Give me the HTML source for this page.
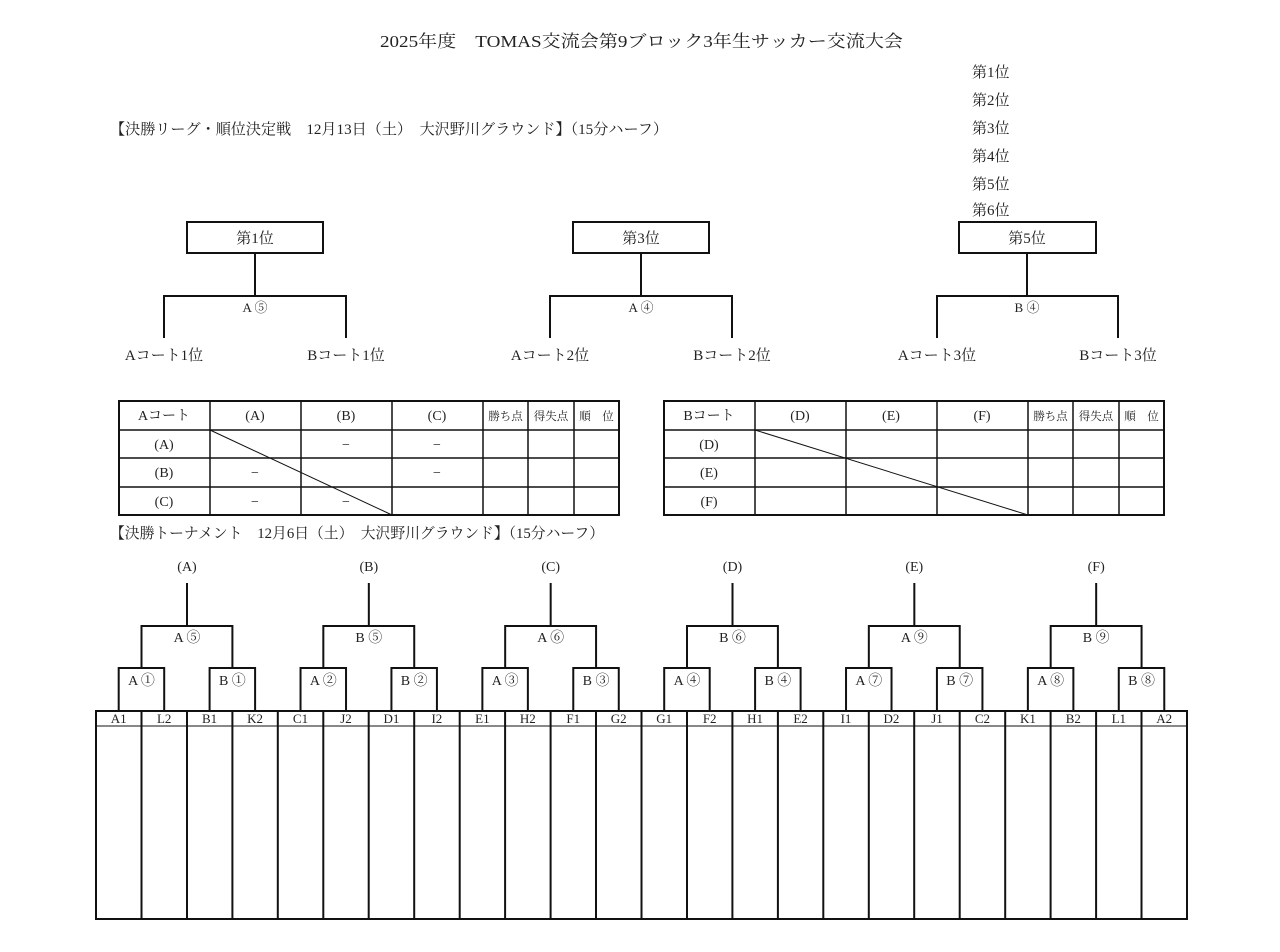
<!DOCTYPE html>
<html><head><meta charset="utf-8"><style>
html,body{margin:0;padding:0;background:#fff;}
svg{display:block;}
text{font-family:"Liberation Serif","Noto Serif CJK JP","Noto Serif CJK SC",serif;fill:#222;}
</style></head><body>
<svg width="1280" height="952" viewBox="0 0 1280 952" xmlns="http://www.w3.org/2000/svg">
<rect width="1280" height="952" fill="#fff"/>
<text x="380" y="47" font-size="17" textLength="523" lengthAdjust="spacingAndGlyphs">2025年度　TOMAS交流会第9ブロック3年生サッカー交流大会</text>
<text x="110" y="134" font-size="15" textLength="558" lengthAdjust="spacingAndGlyphs">【決勝リーグ・順位決定戦　12月13日（土）　大沢野川グラウンド】（15分ハーフ）</text>
<g font-size="15">
<text x="972" y="77">第1位</text><text x="972" y="105">第2位</text><text x="972" y="133">第3位</text>
<text x="972" y="161">第4位</text><text x="972" y="189">第5位</text><text x="972" y="215">第6位</text>
</g>
<g fill="none" stroke="#111" stroke-width="2">
<rect x="187" y="222" width="136" height="31"/>
<path d="M255 253V296M164 338V296H346V338"/>
<rect x="573" y="222" width="136" height="31"/>
<path d="M641 253V296M550 338V296H732V338"/>
<rect x="959" y="222" width="137" height="31"/>
<path d="M1027 253V296M937 338V296H1118V338"/>
</g>
<g font-size="15" text-anchor="middle">
<text x="255" y="243">第1位</text><text x="641" y="243">第3位</text><text x="1027" y="243">第5位</text>
<text x="164" y="360">Aコート1位</text><text x="346" y="360">Bコート1位</text>
<text x="550" y="360">Aコート2位</text><text x="732" y="360">Bコート2位</text>
<text x="937" y="360">Aコート3位</text><text x="1118" y="360">Bコート3位</text>
</g>
<g font-size="13" text-anchor="middle">
<text x="255" y="312">A ⑤</text><text x="641" y="312">A ④</text><text x="1027" y="312">B ④</text>
</g>
<!-- Table A -->
<g fill="none" stroke="#111">
<rect x="119" y="401" width="500" height="114" stroke-width="2"/>
<path stroke-width="1.5" d="M119 430H619M119 458H619M119 487H619M210 401V515M301 401V515M392 401V515M483 401V515M528 401V515M574 401V515"/>
<path stroke-width="1" d="M210 430L392 515"/>
<rect x="664" y="401" width="500" height="114" stroke-width="2"/>
<path stroke-width="1.5" d="M664 430H1164M664 458H1164M664 487H1164M755 401V515M846 401V515M937 401V515M1028 401V515M1073 401V515M1119 401V515"/>
<path stroke-width="1" d="M755 430L1028 515"/>
</g>
<g font-size="14" text-anchor="middle">
<text x="164" y="420">Aコート</text><text x="255" y="420">(A)</text><text x="346" y="420">(B)</text><text x="437" y="420">(C)</text>
<text x="164" y="449">(A)</text><text x="164" y="477">(B)</text><text x="164" y="506">(C)</text>
<text x="346" y="449">−</text><text x="437" y="449">−</text><text x="255" y="477">−</text><text x="437" y="477">−</text>
<text x="255" y="506">−</text><text x="346" y="506">−</text>
<text x="709" y="420">Bコート</text><text x="800" y="420">(D)</text><text x="891" y="420">(E)</text><text x="982" y="420">(F)</text>
<text x="709" y="449">(D)</text><text x="709" y="477">(E)</text><text x="709" y="506">(F)</text>
</g>
<g font-size="11.5" text-anchor="middle">
<text x="505.5" y="420">勝ち点</text><text x="551" y="420">得失点</text><text x="596.5" y="420">順　位</text>
<text x="1050.5" y="420">勝ち点</text><text x="1096" y="420">得失点</text><text x="1141.5" y="420">順　位</text>
</g>
<text x="110" y="538" font-size="15" textLength="494" lengthAdjust="spacingAndGlyphs">【決勝トーナメント　12月6日（土）　大沢野川グラウンド】（15分ハーフ）</text>
<!-- bottom grid -->
<g fill="none" stroke="#111" stroke-width="2">
<rect x="96" y="711" width="1091" height="208"/>
<path stroke-width="1" d="M96 726H1187"/>
<path d="M141.5 711V919M187 711V919M232.4 711V919M277.8 711V919M323.3 711V919M368.7 711V919M414.2 711V919M459.7 711V919M505.1 711V919M550.6 711V919M596 711V919M641.5 711V919M687 711V919M732.4 711V919M777.9 711V919M823.3 711V919M868.8 711V919M914.2 711V919M959.7 711V919M1005.2 711V919M1050.6 711V919M1096.1 711V919M1141.5 711V919"/>
</g>
<defs>
<path id="br" fill="none" stroke="#111" stroke-width="2" d="M118.7 711V668H164.2V711M209.6 711V668H255.1V711M141.5 668V626H232.4V668M187 626V583"/>
</defs>
<use href="#br"/>
<use href="#br" x="181.83"/>
<use href="#br" x="363.67"/>
<use href="#br" x="545.5"/>
<use href="#br" x="727.33"/>
<use href="#br" x="909.17"/>
<g font-size="14" text-anchor="middle">
<text x="187" y="571">(A)</text><text x="368.8" y="571">(B)</text><text x="550.7" y="571">(C)</text>
<text x="732.5" y="571">(D)</text><text x="914.3" y="571">(E)</text><text x="1096.2" y="571">(F)</text>
</g>
<g font-size="14" text-anchor="middle">
<text x="187" y="642">A ⑤</text><text x="368.8" y="642">B ⑤</text><text x="550.7" y="642">A ⑥</text>
<text x="732.5" y="642">B ⑥</text><text x="914.3" y="642">A ⑨</text><text x="1096.2" y="642">B ⑨</text>
<text x="141.5" y="685">A ①</text><text x="232.4" y="685">B ①</text>
<text x="323.3" y="685">A ②</text><text x="414.2" y="685">B ②</text>
<text x="505.2" y="685">A ③</text><text x="596.1" y="685">B ③</text>
<text x="687" y="685">A ④</text><text x="777.9" y="685">B ④</text>
<text x="868.8" y="685">A ⑦</text><text x="959.7" y="685">B ⑦</text>
<text x="1050.7" y="685">A ⑧</text><text x="1141.6" y="685">B ⑧</text>
</g>
<g font-size="13" text-anchor="middle">
<text x="118.7" y="723">A1</text><text x="164.2" y="723">L2</text><text x="209.6" y="723">B1</text><text x="255.1" y="723">K2</text>
<text x="300.5" y="723">C1</text><text x="346" y="723">J2</text><text x="391.4" y="723">D1</text><text x="436.9" y="723">I2</text>
<text x="482.4" y="723">E1</text><text x="527.8" y="723">H2</text><text x="573.3" y="723">F1</text><text x="618.7" y="723">G2</text>
<text x="664.2" y="723">G1</text><text x="709.7" y="723">F2</text><text x="755.1" y="723">H1</text><text x="800.6" y="723">E2</text>
<text x="846" y="723">I1</text><text x="891.5" y="723">D2</text><text x="937" y="723">J1</text><text x="982.4" y="723">C2</text>
<text x="1027.9" y="723">K1</text><text x="1073.3" y="723">B2</text><text x="1118.8" y="723">L1</text><text x="1164.2" y="723">A2</text>
</g>
</svg>
</body></html>
